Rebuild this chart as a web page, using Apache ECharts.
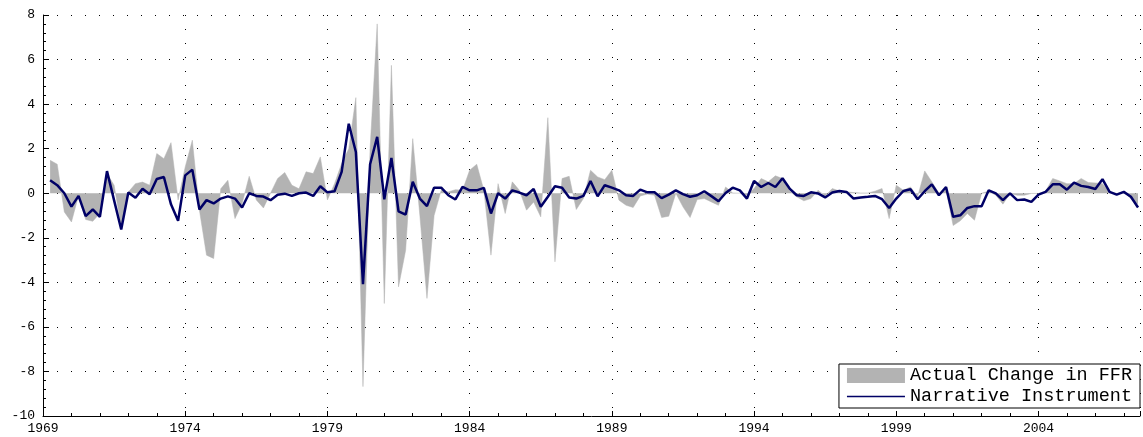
<!DOCTYPE html>
<html>
<head>
<meta charset="utf-8">
<script src="https://cdn.jsdelivr.net/npm/echarts@6/dist/echarts.min.js"></script>
<style>html,body{margin:0;padding:0;background:#fff}#chart{width:1143px;height:437px}</style>
</head>
<body>
<div id="chart"></div>
<script>
// quarterly, first point 1969Q1
const startYear = 1969;
const actualFFR = [
  1.48, 1.3, -0.84, -1.29, -0.1, -1.18, -1.26, -0.9, 0.88, 0.36,
  -1.5, 0.05, 0.43, 0.5, 0.36, 1.78, 1.55, 2.27, -0.3, 1.18,
  2.38, -0.76, -2.78, -2.93, 0.2, 0.58, -1.14, -0.46, 0.76, -0.3,
  -0.66, 0, 0.66, 0.93, 0.36, 0.2, 0.96, 0.88, 1.63, -0.3,
  0.43, 1.33, 2.0, 4.29, -8.68, 2.0, 7.6, -4.95, 5.74, -4.2,
  -2.56, 2.45, -1.0, -4.72, -1.0, 0.13, 0.06, 0.16, 0.13, 1.03,
  1.3, 0.13, -2.78, 0.43, -0.91, 0.51, 0.13, -0.76, -0.39, -1.06,
  3.39, -3.08, 0.66, 0.76, -0.73, -0.24, 1.03, 0.73, 0.61, 1.03,
  -0.31, -0.54, -0.64, -0.12, -0.04, -0.09, -1.09, -1.03, 0, -0.61,
  -1.09, -0.28, -0.24, -0.39, -0.54, 0.28, 0.01, 0, -0.09, 0.21,
  0.66, 0.51, 0.78, 0.66, 0.1, -0.16, -0.34, -0.24, 0.13, -0.13,
  0.21, 0.1, 0.06, 0.03, 0.01, 0.01, 0.09, 0.21, -1.14, 0.36,
  0.13, 0.28, -0.16, 1.0, 0.51, 0, 0.13, -1.45, -1.24, -0.91,
  -1.21, 0.0, 0.09, -0.09, -0.49, -0.01, -0.09, -0.09, -0.01, -0.01,
  0.09, 0.66, 0.55, 0.43, 0.43, 0.66, 0.48, 0.46, 0.43, 0.06,
  -0.01, 0.06, -0.24, -0.49
];
const narrative = [
  0.58, 0.36, 0, -0.6, -0.12, -1.03, -0.73, -1.06, 0.99, -0.32,
  -1.63, 0.03, -0.2, 0.2, -0.05, 0.64, 0.73, -0.5, -1.24, 0.8,
  1.06, -0.73, -0.31, -0.46, -0.24, -0.14, -0.24, -0.64, 0, -0.12,
  -0.15, -0.31, -0.07, -0.02, -0.12, 0, 0.03, -0.12, 0.31, 0.04,
  0.09, 0.96, 3.12, 1.85, -4.08, 1.3, 2.53, -0.27, 1.58, -0.81,
  -0.96, 0.51, -0.24, -0.58, 0.25, 0.25, -0.09, -0.28, 0.28, 0.13,
  0.13, 0.24, -0.91, 0, -0.24, 0.13, 0.03, -0.09, 0.19, -0.61,
  -0.16, 0.31, 0.25, -0.19, -0.24, -0.12, 0.55, -0.14, 0.36, 0.25,
  0.13, -0.09, -0.12, 0.16, 0.04, 0.04, -0.22, -0.06, 0.13, -0.04,
  -0.16, -0.09, 0.09, -0.13, -0.36, 0.01, 0.25, 0.13, -0.24, 0.55,
  0.28, 0.46, 0.28, 0.67, 0.21, -0.09, -0.12, 0.04, -0.01, -0.19,
  0.03, 0.1, 0.06, -0.24, -0.19, -0.16, -0.12, -0.27, -0.66, -0.24,
  0.1, 0.18, -0.27, 0.09, 0.4, -0.09, 0.28, -1.06, -0.99, -0.66,
  -0.58, -0.58, 0.13, -0.01, -0.31, -0.01, -0.31, -0.28, -0.39, -0.06,
  0.06, 0.4, 0.4, 0.16, 0.48, 0.33, 0.28, 0.19, 0.63, 0.06,
  -0.06, 0.06, -0.16, -0.64
];
const yearTicks = [1969, 1974, 1979, 1984, 1989, 1994, 1999, 2004];

// x measured in years since 1969
const toXY = arr => arr.map((v, i) => [(i + 1) * 0.25, v]);
const font = 'Liberation Mono';

const chart = echarts.init(document.getElementById('chart'));
chart.setOption({
  animation: false,
  grid: { left: 43, right: 0, top: 15, bottom: 21 },
  legend: {
    orient: 'vertical',
    right: 3,
    bottom: 29,
    backgroundColor: '#fff',
    borderColor: '#000',
    borderWidth: 1,
    borderRadius: 0,
    padding: [2, 8, 2, 8],
    itemGap: 2,
    itemWidth: 58,
    itemHeight: 15,
    textStyle: { fontFamily: font, fontSize: 18.5, color: '#000' },
    data: [
      { name: 'Actual Change in FFR', icon: 'rect' },
      { name: 'Narrative Instrument', icon: 'path://M0,6.7H58V8.3H0Z' }
    ]
  },
  xAxis: {
    type: 'value',
    min: 0,
    max: 1100 / 28.52,
    interval: 5,
    axisLine: { onZero: false, lineStyle: { color: '#000' } },
    axisTick: { inside: true, length: 5, lineStyle: { color: '#000' } },
    minorTick: { show: true, splitNumber: 5, length: 3, lineStyle: { color: '#000' } },
    axisLabel: {
      fontFamily: font, fontSize: 13, color: '#000', margin: 6,
      formatter: v => yearTicks.includes(v + startYear) ? String(v + startYear) : ''
    },
    splitLine: { show: true, lineStyle: { type: [1, 13], color: '#000' } }
  },
  yAxis: {
    type: 'value',
    min: -10,
    max: 8,
    interval: 2,
    axisLine: { show: true, onZero: false, lineStyle: { color: '#000' } },
    axisTick: { inside: true, length: 6, lineStyle: { color: '#000' } },
    minorTick: { show: true, splitNumber: 5, length: 3, lineStyle: { color: '#000' } },
    axisLabel: { fontFamily: font, fontSize: 13, color: '#000', margin: 8 },
    splitLine: { show: true, lineStyle: { type: [1, 13], color: '#000' } }
  },
  series: [
    {
      name: 'Actual Change in FFR',
      type: 'line',
      data: toXY(actualFFR),
      symbol: 'none',
      color: '#b3b3b3',
      lineStyle: { width: 0.5, color: '#b3b3b3' },
      areaStyle: { color: '#b3b3b3', opacity: 1, origin: 0 }
    },
    {
      name: 'Narrative Instrument',
      type: 'line',
      data: toXY(narrative),
      symbol: 'none',
      color: '#000066',
      lineStyle: { width: 2.5, color: '#000066' },
      z: 3
    }
  ]
});
</script>
</body>
</html>
